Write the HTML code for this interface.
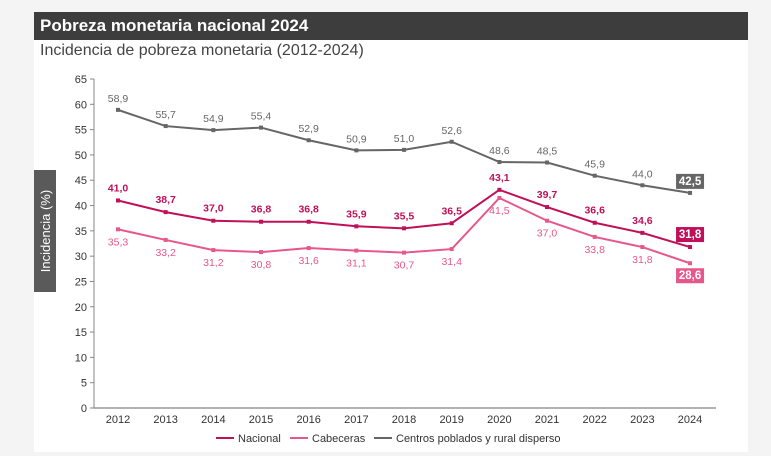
<!DOCTYPE html>
<html><head><meta charset="utf-8"><style>
body{margin:0;width:771px;height:456px;background:#f4f4f4;font-family:"Liberation Sans",sans-serif;overflow:hidden}
#p{position:absolute;left:34px;top:12px;width:714px;height:440px;background:#fff}
#t{position:absolute;left:34px;top:12px;width:714px;height:28px;background:#3d3d3d;color:#fff;font-weight:bold;font-size:17px;line-height:28px;box-sizing:border-box;padding-left:6px}
#s{position:absolute;left:40px;top:42px;font-size:16px;color:#444}
svg{position:absolute;left:0;top:0}
</style></head><body>
<div id="p"></div><div id="t">Pobreza monetaria nacional 2024</div>
<div id="s">Incidencia de pobreza monetaria (2012-2024)</div>
<svg id="c" width="771" height="456" font-family="Liberation Sans, sans-serif"></svg>
<script>
var s='',Y=function(v){return 408-v*5.0615},X=function(i){return 118+i*47.67};
s+='<rect x="34" y="170" width="22" height="122" fill="#5a5a5a"/><text transform="translate(50,231) rotate(-90)" text-anchor="middle" font-size="13" fill="#fff">Incidencia (%)</text>';
s+='<line x1="94" y1="79" x2="94" y2="408" stroke="#888"/><line x1="94" y1="408" x2="716" y2="408" stroke="#666"/>';
for(var v=0;v<=65;v+=5){s+='<line x1="90" x2="94" y1="'+Y(v)+'" y2="'+Y(v)+'" stroke="#888"/><text x="87" y="'+(Y(v)+4)+'" text-anchor="end" font-size="11" fill="#333">'+v+'</text>';}
for(var i=0;i<13;i++)s+='<text x="'+X(i)+'" y="423" text-anchor="middle" font-size="11" fill="#333">'+(2012+i)+'</text>';
var G=[58.9,55.7,54.9,55.4,52.9,50.9,51.0,52.6,48.6,48.5,45.9,44.0,42.5],
N=[41.0,38.7,37.0,36.8,36.8,35.9,35.5,36.5,43.1,39.7,36.6,34.6,31.8],
C=[35.3,33.2,31.2,30.8,31.6,31.1,30.7,31.4,41.5,37.0,33.8,31.8,28.6];
function ser(d,col,off,bold,last){var pts=d.map(function(v,i){return X(i)+','+Y(v)}).join(' ');
s+='<polyline points="'+pts+'" fill="none" stroke="'+col+'" stroke-width="2"/>';
d.forEach(function(v,i){s+='<rect x="'+(X(i)-2)+'" y="'+(Y(v)-2)+'" width="4" height="4" fill="'+col+'"/>';
var t=v.toFixed(1).replace('.',','),y=Y(v)+off;
if(i==12){s+='<rect x="'+(X(i)-14)+'" y="'+(y-11)+'" width="28" height="15" fill="'+col+'"/><text x="'+X(i)+'" y="'+y+'" text-anchor="middle" font-size="11.5" font-weight="bold" fill="#fff">'+t+'</text>';}
else s+='<text x="'+X(i)+'" y="'+y+'" text-anchor="middle" font-size="10.5"'+(bold?' font-weight="bold"':'')+' fill="'+col+'">'+t+'</text>';});}
ser(G,'#666',-8,false);ser(N,'#c0105a',-9,true);ser(C,'#e8578c',16,false);
s+='<line x1="216" x2="234" y1="438" y2="438" stroke="#c0105a" stroke-width="2"/><text x="238" y="442" font-size="11" fill="#333">Nacional</text>';
s+='<line x1="290" x2="308" y1="438" y2="438" stroke="#e8578c" stroke-width="2"/><text x="312" y="442" font-size="11" fill="#333">Cabeceras</text>';
s+='<line x1="374" x2="392" y1="438" y2="438" stroke="#666" stroke-width="2"/><text x="396" y="442" font-size="11" fill="#333">Centros poblados y rural disperso</text>';
document.getElementById('c').innerHTML=s;
</script></body></html>
